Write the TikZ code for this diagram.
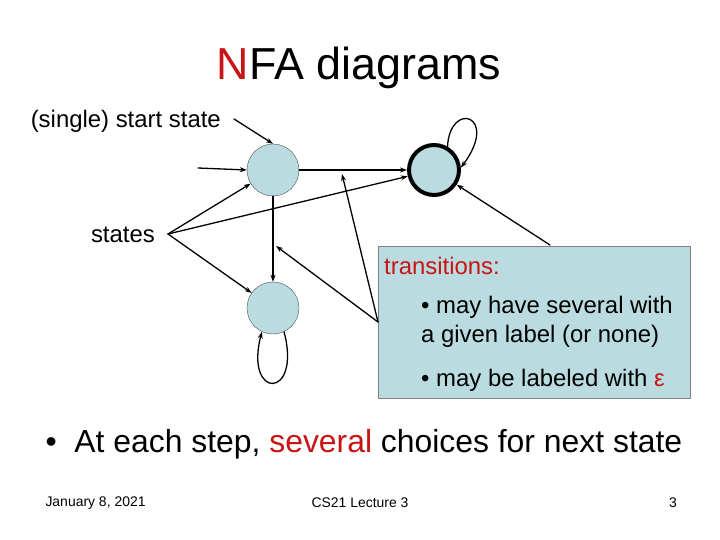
\documentclass[tikz,border=0pt]{standalone}
\usepackage{fontspec}
\setmainfont{Liberation Sans}
\usetikzlibrary{arrows.meta,calc}
\definecolor{statefill}{RGB}{186,220,224}
\definecolor{titlered}{RGB}{200,20,20}
\tikzset{
  state/.style={circle,draw=black!70,fill=statefill,minimum size=52bp,inner sep=0pt},
  edge/.style={line width=1.3pt,-{Stealth[length=7pt,width=5pt]}},
  txt/.style={font=\fontsize{24}{29}\selectfont,inner sep=0pt}
}
\begin{document}
\begin{tikzpicture}[x=1bp,y=-1bp,line cap=round,line join=round]
  \useasboundingbox (0,0) rectangle (720,540);
  % title
  \node[font=\fontsize{45}{52}\selectfont] (title) at (359,68) {\textcolor{titlered}{N}FA diagrams};
  % transition box
  \node[draw=black!50,fill=statefill,minimum width=312bp,minimum height=152bp,inner sep=0pt,anchor=north west] (box) at (378,246) {};
  \node[txt,anchor=west,text=titlered] (trans) at (384,266) {transitions:};
  \node[txt,anchor=north west,align=left] (b1) at (421,296) {\textbullet\ may have several with\\a given label (or none)};
  \node[txt,anchor=west] (b2) at (421,380) {\textbullet\ may be labeled with \textcolor{titlered}{ε}};
  % states
  \node[state] (q0) at (273,170) {};
  \node[state] (q1) at (273,308) {};
  \node[state,draw=black,line width=4pt,minimum size=50bp] (q2) at (434,170) {};
  % labels
  \node[txt,anchor=east] (start) at (221,121) {(single) start state};
  \node[txt,anchor=east] (states) at (155,235) {states};
  \coordinate (startend) at (234,119);
  \coordinate (init) at (198,168);
  \coordinate (stpt) at (168,234);
  \coordinate (boxc) at (378,322);
  \coordinate (boxtr) at (550,245);
  \coordinate (mid1) at (276,246);
  \coordinate (mid2) at (342,174);
  % edges
  \draw[edge] (startend) -- (q0.north);
  \draw[edge] (init) -- (q0.west);
  \draw[edge] (q0) -- (q2);
  \draw[edge] (q0) -- (q1);
  \draw[edge] (stpt) -- (q0);
  \draw[edge] (stpt) -- (q2);
  \draw[edge] (stpt) -- (q1);
  \draw[edge] (boxc) -- (mid1);
  \draw[edge] (boxc) -- (mid2);
  \draw[edge] (boxtr) -- (q2);
  \draw[edge] (q2.60) .. controls (450,100) and (500,115) .. (q2.5);
  \draw[edge] (q1.-65) .. controls (302,400) and (244,400) .. (q1.-115);
  % bottom text
  \node[font=\fontsize{32}{38}\selectfont,anchor=west] (note) at (42,444) {\textbullet\ \ At each step, \textcolor{titlered}{several} choices for next state};
  \node[font=\fontsize{14}{17}\selectfont,anchor=west] (date) at (42,503) {January 8, 2021};
  \node[font=\fontsize{14}{17}\selectfont] (lect) at (360,503) {CS21 Lecture 3};
  \node[font=\fontsize{14}{17}\selectfont] (page) at (673,503) {3};
\end{tikzpicture}
\end{document}
